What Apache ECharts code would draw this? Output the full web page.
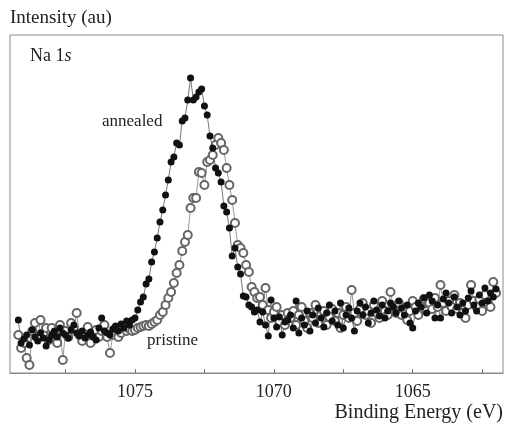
<!DOCTYPE html>
<html>
<head>
<meta charset="utf-8">
<script src="https://cdn.jsdelivr.net/npm/echarts@6/dist/echarts.min.js"></script>
<style>
  html, body { margin: 0; padding: 0; background: #fff; }
  #chart { width: 507px; height: 428px; }
</style>
</head>
<body>
<div id="chart"></div>
<script>
// binding energy grid: 1079.2 eV down to 1062.0 eV, 0.1 eV step
const startEv = 1079.2
const stepEv = 0.1

// intensity (arbitrary units), one value per energy step
const annealed = [
  53, 30, 34, 38, 28, 43, 36, 32, 40, 35,
  27, 33, 38, 42, 36, 45, 40, 38, 35, 43,
  48, 40, 37, 42, 35, 38, 41, 36, 33, 45,
  55, 42, 40, 38, 44, 47, 42, 49, 45, 52,
  48, 53,
  55, 63, 71, 76, 89, 94, 111, 121, 135, 151,
  163, 178, 193, 211, 216, 230, 228, 252, 255, 273,
  295, 273, 276, 281, 284, 267, 258, 237, 225, 205,
  200, 191, 167, 161, 145, 117, 125, 106, 99, 77,
  76, 68, 66, 61, 63, 51, 61, 48, 37, 73,
  55, 46, 56, 38, 51, 53,
  58, 45, 72, 40, 55, 48, 62, 42, 58, 50,
  65, 55, 46, 60, 68, 52, 62, 48, 70, 45,
  58, 65, 55, 42, 62, 70, 58, 66, 50, 60,
  72, 63, 57, 68, 55, 62, 70, 66, 60, 72,
  65, 58, 68, 50, 45, 62, 70, 66, 75, 60,
  78, 72, 55, 68, 55, 74, 80, 70, 60, 76,
  66, 58, 70, 62, 75, 82, 68, 62, 78, 70,
  85, 72, 80, 76, 84
]

const pristine = [
  38, 25, 30, 15, 8, 42, 50, 35, 53, 40,
  45, 33, 45, 38, 30, 48, 13, 42, 36, 50,
  44, 60, 38, 32, 40, 46, 30, 38, 43, 36,
  42, 48, 36, 20, 38, 44, 36, 40, 45, 42,
  44, 42,
  43, 45, 46, 47, 48, 47, 49, 51, 53, 58,
  61, 68, 75, 81, 90, 100, 108, 122, 131, 138,
  165, 175, 175, 201, 200, 188, 211, 213, 218, 228,
  235, 230, 223, 205, 188, 173, 150, 128, 125, 120,
  108, 101, 86, 81, 75, 76, 68, 85, 63, 55,
  61, 66, 51, 58, 48, 60,
  55, 62, 48, 58, 66, 52, 45, 60, 55, 68,
  50, 58, 62, 48, 56, 64, 52, 60, 45, 58,
  66, 55, 83, 60, 52, 64, 70, 58, 62, 50,
  68, 60, 55, 72, 62, 58, 81, 66, 60, 70,
  58, 64, 53, 62, 72, 66, 58, 68, 74, 62,
  70, 64, 75, 66, 88, 70, 62, 72, 66, 78,
  64, 70, 60, 55, 68, 88, 72, 66, 74, 62,
  78, 70, 66, 91, 80
]

const labelTicks = [1065, 1070, 1075]
const minorTicks = [1062.5, 1065, 1067.5, 1070, 1072.5, 1075, 1077.5]

const energy = i => +(startEv - stepEv * i).toFixed(1)
const annealedData = annealed.map((v, i) => [energy(i), v])
const pristineData = pristine.map((v, i) => [energy(i), v])

const serif = '"Liberation Serif", "DejaVu Serif", serif'
const chart = echarts.init(document.getElementById('chart'))

chart.setOption({
  animation: false,
  backgroundColor: '#fff',
  grid: {
    left: 10, right: 4, top: 35, bottom: 55,
    show: true, borderColor: '#8a8a8a', borderWidth: 1
  },
  xAxis: {
    type: 'value',
    inverse: true,
    min: 1061.75,
    max: 1079.5,
    axisLine: { show: true, lineStyle: { color: '#8a8a8a', width: 1 } },
    axisTick: { show: true, inside: true, length: 4, customValues: minorTicks, lineStyle: { color: '#777' } },
    axisLabel: {
      customValues: labelTicks,
      formatter: v => String(v),
      color: '#222', fontFamily: serif, fontSize: 18, margin: 10
    },
    splitLine: { show: false }
  },
  yAxis: {
    type: 'value',
    min: 0,
    max: 338,
    axisLine: { show: false },
    axisTick: { show: false },
    axisLabel: { show: false },
    splitLine: { show: false }
  },
  series: [
    {
      name: 'pristine',
      type: 'line',
      data: pristineData,
      showAllSymbol: true,
      symbol: 'emptyCircle',
      symbolSize: 8,
      lineStyle: { color: '#999', width: 1 },
      itemStyle: { color: '#666', borderWidth: 1 }
    },
    {
      name: 'annealed',
      type: 'line',
      data: annealedData,
      showAllSymbol: true,
      symbol: 'circle',
      symbolSize: 7,
      lineStyle: { color: '#777', width: 1 },
      itemStyle: { color: '#111' }
    }
  ],
  graphic: [
    {
      type: 'text', left: 10, top: 9,
      style: { text: 'Intensity (au)', font: '19px ' + serif, fill: '#222' }
    },
    {
      type: 'text', right: 4, top: 403,
      style: { text: 'Binding Energy (eV)', font: '20px ' + serif, fill: '#222' }
    },
    {
      type: 'text', left: 30, top: 47,
      style: {
        text: '{r|Na 1}{i|s}',
        rich: {
          r: { fontFamily: serif, fontSize: 18, fill: '#222' },
          i: { fontFamily: serif, fontSize: 18, fontStyle: 'italic', fill: '#222' }
        }
      }
    },
    {
      type: 'text', left: 102, top: 113,
      style: { text: 'annealed', font: '17px ' + serif, fill: '#222' }
    },
    {
      type: 'text', left: 147, top: 332,
      style: { text: 'pristine', font: '17px ' + serif, fill: '#222' }
    }
  ]
})
</script>
</body>
</html>
